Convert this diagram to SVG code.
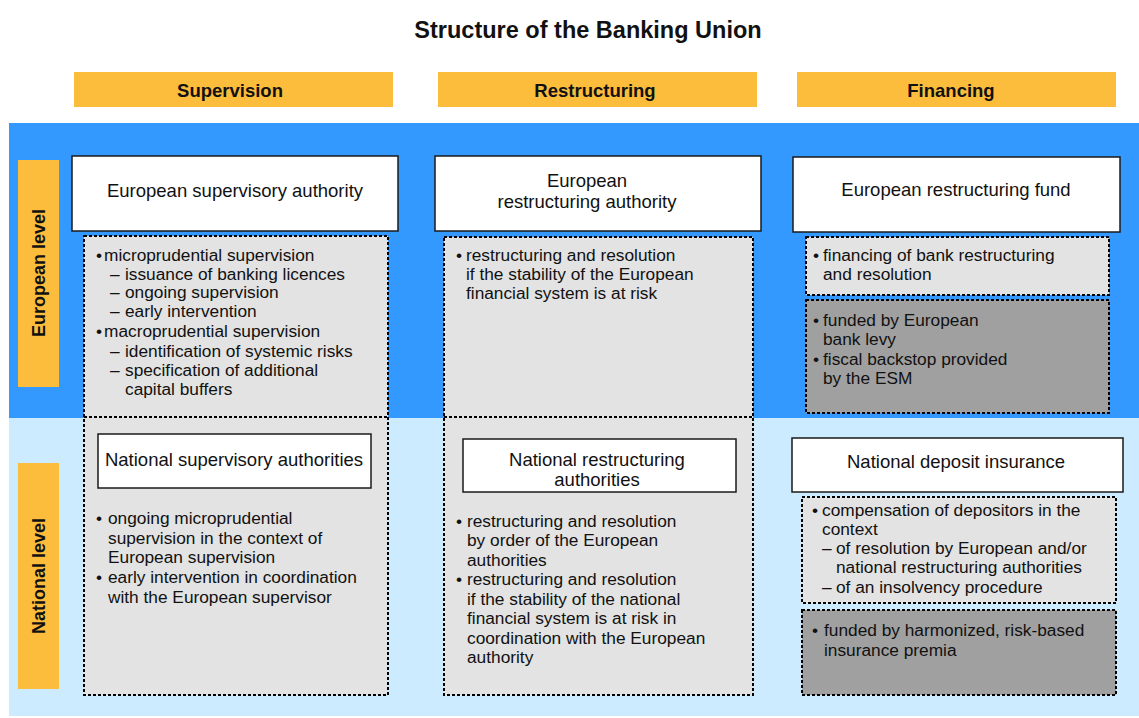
<svg xmlns="http://www.w3.org/2000/svg" width="1139" height="718" viewBox="0 0 1139 718">
<style>
text{font-family:"Liberation Sans",Arial,sans-serif;fill:#111;}
.t{font-size:23.5px;font-weight:bold;text-anchor:middle;}
.h{font-size:18.5px;font-weight:bold;text-anchor:middle;}
.lv{font-size:18px;font-weight:bold;text-anchor:middle;}
.b{font-size:17.3px;}
.c{font-size:18.5px;text-anchor:middle;}
.hdr{fill:#FDBD3C;}
.wb{fill:#fff;stroke:#1a1a1a;stroke-width:1.5;}
.dl{fill:#E3E3E3;stroke:#000;stroke-width:2;stroke-dasharray:3 2;}
.dd{fill:#A0A0A0;stroke:#000;stroke-width:2;stroke-dasharray:3 2;}
.dv{stroke:#000;stroke-width:2;stroke-dasharray:3 2;fill:none;}
</style>
<rect width="1139" height="718" fill="#fff"/>
<text class="t" x="588" y="38">Structure of the Banking Union</text>
<g id="headers">
<rect class="hdr" x="74" y="72" width="319" height="35"/>
<text class="h" x="230" y="97">Supervision</text>
<rect class="hdr" x="438" y="72" width="319" height="35"/>
<text class="h" x="595" y="97">Restructuring</text>
<rect class="hdr" x="797" y="72" width="319" height="35"/>
<text class="h" x="951" y="97">Financing</text>
</g>
<g id="bands">
<rect x="9" y="123" width="1130" height="295" fill="#3399FF"/>
<rect x="9" y="418" width="1130" height="298" fill="#CCEBFF"/>
</g>
<g id="level-european">
<rect class="hdr" x="18" y="160" width="41" height="227"/>
<text class="lv" transform="translate(45 273) rotate(-90)">European level</text>
</g>
<g id="level-national">
<rect class="hdr" x="18" y="463" width="41" height="226"/>
<text class="lv" transform="translate(45 576) rotate(-90)">National level</text>
</g>

<g id="supervision-details">
<rect class="dl" x="84" y="236" width="304" height="459"/>
<line class="dv" x1="84" y1="417" x2="388" y2="417"/>
<text class="b" x="96" y="261">•</text><text class="b" x="104" y="261">microprudential supervision</text>
<text class="b" x="110" y="280">–</text><text class="b" x="125" y="280">issuance of banking licences</text>
<text class="b" x="110" y="298">–</text><text class="b" x="125" y="298">ongoing supervision</text>
<text class="b" x="110" y="317">–</text><text class="b" x="125" y="317">early intervention</text>
<text class="b" x="96" y="337">•</text><text class="b" x="104" y="337">macroprudential supervision</text>
<text class="b" x="110" y="357">–</text><text class="b" x="125" y="357">identification of systemic risks</text>
<text class="b" x="110" y="376">–</text><text class="b" x="125" y="376">specification of additional</text>
<text class="b" x="125" y="395">capital buffers</text>
<text class="b" x="96" y="524">•</text><text class="b" x="108" y="524">ongoing microprudential</text>
<text class="b" x="108" y="544">supervision in the context of</text>
<text class="b" x="108" y="563">European supervision</text>
<text class="b" x="96" y="583">•</text><text class="b" x="108" y="583">early intervention in coordination</text>
<text class="b" x="108" y="603">with the European supervisor</text>
</g>
<g id="european-supervisory-authority">
<rect class="wb" x="72" y="156" width="326" height="75"/>
<text class="c" x="235" y="197">European supervisory authority</text>
</g>
<g id="national-supervisory-authorities">
<rect class="wb" x="98" y="434" width="273" height="54"/>
<text class="c" x="234" y="466">National supervisory authorities</text>
</g>

<g id="restructuring-details">
<rect class="dl" x="444" y="237" width="309" height="458"/>
<line class="dv" x1="444" y1="417" x2="753" y2="417"/>
<text class="b" x="456" y="261">•</text><text class="b" x="466" y="261">restructuring and resolution</text>
<text class="b" x="466" y="280">if the stability of the European</text>
<text class="b" x="466" y="299">financial system is at risk</text>
<text class="b" x="456" y="527">•</text><text class="b" x="467" y="527">restructuring and resolution</text>
<text class="b" x="467" y="546">by order of the European</text>
<text class="b" x="467" y="566">authorities</text>
<text class="b" x="456" y="585">•</text><text class="b" x="467" y="585">restructuring and resolution</text>
<text class="b" x="467" y="605">if the stability of the national</text>
<text class="b" x="467" y="624">financial system is at risk in</text>
<text class="b" x="467" y="644">coordination with the European</text>
<text class="b" x="467" y="663">authority</text>
</g>
<g id="european-restructuring-authority">
<rect class="wb" x="435" y="156" width="326" height="75"/>
<text class="c" x="587" y="187">European</text>
<text class="c" x="587" y="208">restructuring authority</text>
</g>
<g id="national-restructuring-authorities">
<rect class="wb" x="463" y="439" width="273" height="53"/>
<text class="c" x="597" y="466">National restructuring</text>
<text class="c" x="597" y="486">authorities</text>
</g>

<g id="european-restructuring-fund">
<rect class="wb" x="793" y="157" width="327" height="75"/>
<text class="c" x="956" y="196">European restructuring fund</text>
</g>
<g id="fund-tasks">
<rect class="dl" x="806" y="237" width="303" height="58"/>
<text class="b" x="813" y="261">•</text><text class="b" x="823" y="261">financing of bank restructuring</text>
<text class="b" x="823" y="280">and resolution</text>
</g>
<g id="fund-financing">
<rect class="dd" x="806" y="300" width="303" height="113"/>
<text class="b" x="813" y="326">•</text><text class="b" x="823" y="326">funded by European</text>
<text class="b" x="823" y="345">bank levy</text>
<text class="b" x="813" y="365">•</text><text class="b" x="823" y="365">fiscal backstop provided</text>
<text class="b" x="823" y="384">by the ESM</text>
</g>
<g id="national-deposit-insurance">
<rect class="wb" x="792" y="438" width="331" height="54"/>
<text class="c" x="956" y="468">National deposit insurance</text>
</g>
<g id="deposit-tasks">
<rect class="dl" x="802" y="497" width="314" height="106"/>
<text class="b" x="812" y="516">•</text><text class="b" x="822" y="516">compensation of depositors in the</text>
<text class="b" x="822" y="535">context</text>
<text class="b" x="822" y="554">–</text><text class="b" x="836" y="554">of resolution by European and/or</text>
<text class="b" x="836" y="573">national restructuring authorities</text>
<text class="b" x="822" y="593">–</text><text class="b" x="836" y="593">of an insolvency procedure</text>
</g>
<g id="deposit-financing">
<rect class="dd" x="802" y="610" width="314" height="85"/>
<text class="b" x="812" y="636">•</text><text class="b" x="824" y="636">funded by harmonized, risk-based</text>
<text class="b" x="824" y="656">insurance premia</text>
</g>
<g id="connectors"></g>
</svg>
